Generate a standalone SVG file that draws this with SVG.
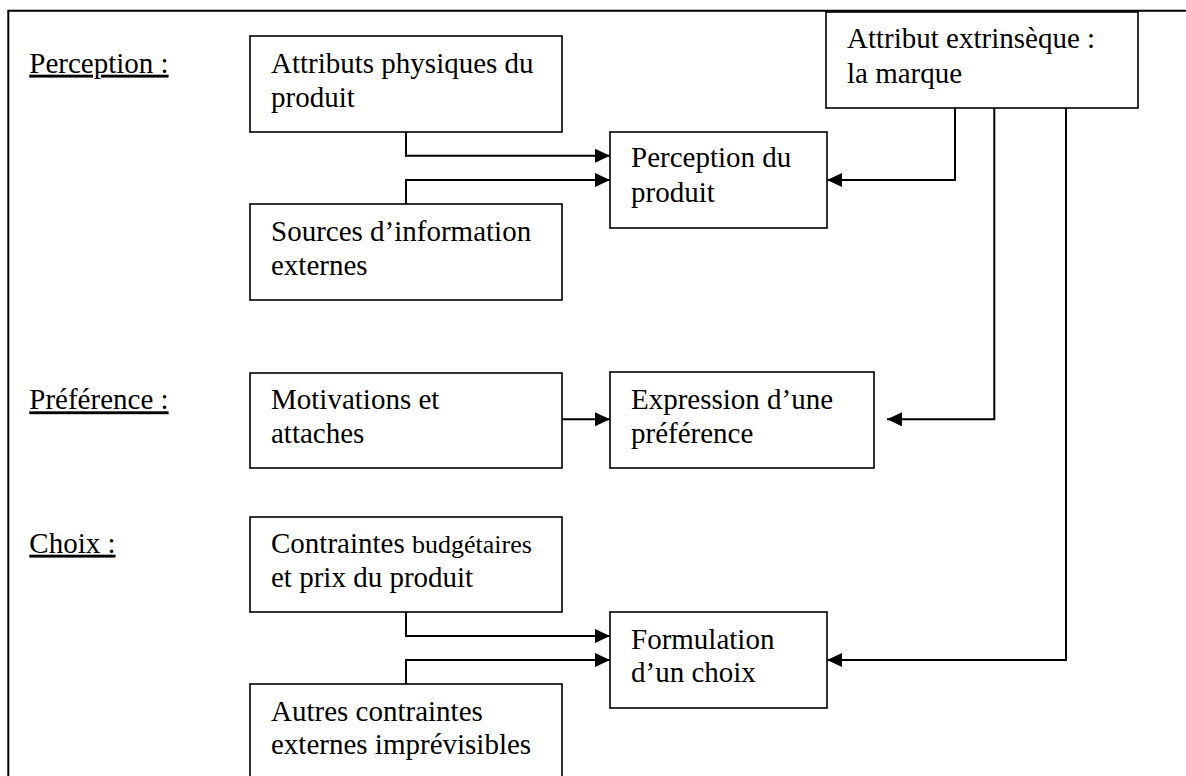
<svg xmlns="http://www.w3.org/2000/svg" width="1186" height="776" viewBox="0 0 1186 776">
  <defs>
    <style>
      .bg { fill: #ffffff; }
      .frame { fill: none; stroke: #000; stroke-width: 2; }
      .box { fill: #ffffff; stroke: #000; stroke-width: 1.6; }
      .t { font-family: "Liberation Serif", "Times New Roman", serif; font-size: 29px; fill: #000; }
      .lbl { text-decoration: underline; }
      .conn { fill: none; stroke: #000; stroke-width: 2; }
    </style>
    <marker id="arrow" markerUnits="userSpaceOnUse" markerWidth="16" markerHeight="16" refX="15" refY="7" orient="auto">
      <path d="M0,0 L15,7 L0,14 Z" fill="#000"/>
    </marker>
  </defs>

  <rect class="bg" x="0" y="0" width="1186" height="776"/>

  <g id="frame">
    <path class="frame" d="M8.3,776 V10.7 H1186"/>
  </g>

  <g id="labels">
    <text class="t lbl" x="29.3" y="72.7">Perception :</text>
    <text class="t lbl" x="29.3" y="409.3">Préférence :</text>
    <text class="t lbl" x="29.3" y="552.7">Choix :</text>
  </g>

  <g id="connectors">
    <path class="conn" d="M406,132 V155.7 H610" marker-end="url(#arrow)"/>
    <path class="conn" d="M406,204 V180 H610" marker-end="url(#arrow)"/>
    <path class="conn" d="M955,108 V180 H827" marker-end="url(#arrow)"/>
    <path class="conn" d="M562,419.3 H610" marker-end="url(#arrow)"/>
    <path class="conn" d="M994.3,108 V419.3 H887" marker-end="url(#arrow)"/>
    <path class="conn" d="M406,612 V636 H610" marker-end="url(#arrow)"/>
    <path class="conn" d="M406,684 V660 H610" marker-end="url(#arrow)"/>
    <path class="conn" d="M1066,108 V660 H827" marker-end="url(#arrow)"/>
  </g>

  <g id="node-attributs">
    <rect class="box" x="250" y="36" width="312" height="96"/>
    <text class="t" x="271" y="72.7">Attributs physiques du</text>
    <text class="t" x="271" y="107">produit</text>
  </g>

  <g id="node-sources">
    <rect class="box" x="250" y="204" width="312" height="96"/>
    <text class="t" x="271" y="240.7">Sources d’information</text>
    <text class="t" x="271" y="275">externes</text>
  </g>

  <g id="node-perception">
    <rect class="box" x="610" y="132" width="217" height="96"/>
    <text class="t" x="631" y="166.7">Perception du</text>
    <text class="t" x="631" y="201.7">produit</text>
  </g>

  <g id="node-marque">
    <rect class="box" x="826" y="12" width="312" height="96"/>
    <text class="t" x="847" y="48.3">Attribut extrinsèque :</text>
    <text class="t" x="847" y="82.7">la marque</text>
  </g>

  <g id="node-motivations">
    <rect class="box" x="250" y="373" width="312" height="95"/>
    <text class="t" x="271" y="409.3">Motivations et</text>
    <text class="t" x="271" y="442.7">attaches</text>
  </g>

  <g id="node-expression">
    <rect class="box" x="610" y="372" width="264" height="96"/>
    <text class="t" x="631" y="409.3">Expression d’une</text>
    <text class="t" x="631" y="442.7">préférence</text>
  </g>

  <g id="node-contraintes">
    <rect class="box" x="250" y="517" width="312" height="95"/>
    <text class="t" x="271" y="553.3">Contraintes <tspan font-size="26">budgétaires</tspan></text>
    <text class="t" x="271" y="586.7">et prix du produit</text>
  </g>

  <g id="node-formulation">
    <rect class="box" x="610" y="612" width="217" height="96"/>
    <text class="t" x="631" y="649.3">Formulation</text>
    <text class="t" x="631" y="682">d’un choix</text>
  </g>

  <g id="node-autres">
    <rect class="box" x="250" y="684" width="312" height="110"/>
    <text class="t" x="271" y="721">Autres contraintes</text>
    <text class="t" x="271" y="754.3">externes imprévisibles</text>
  </g>
</svg>
